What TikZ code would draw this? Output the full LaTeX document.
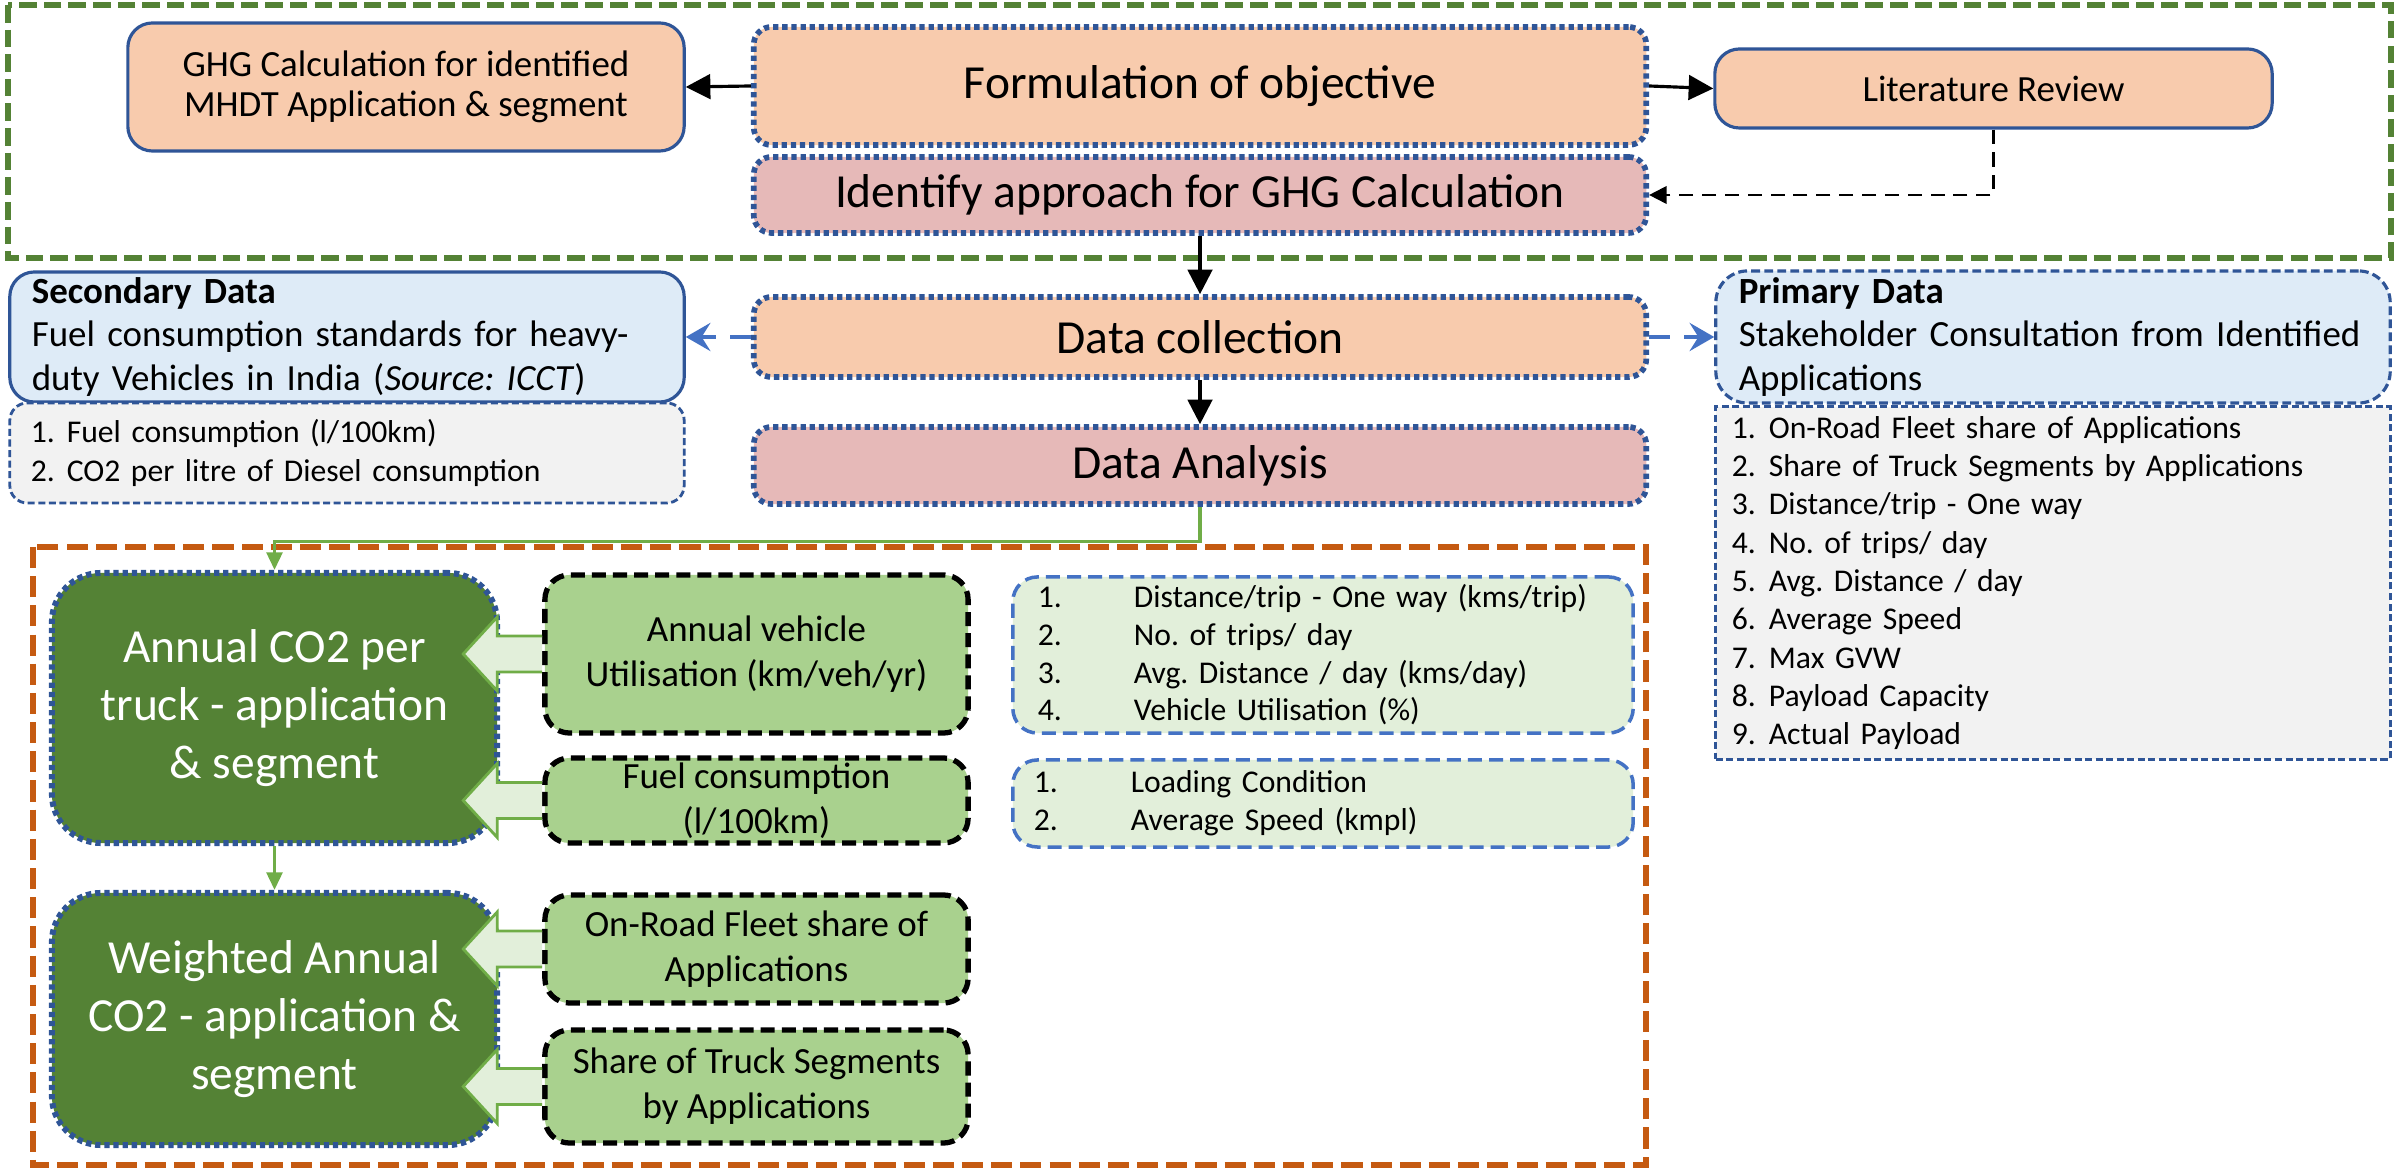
\documentclass[tikz,border=0pt]{standalone}
\usepackage{fontspec}
\setmainfont{Carlito}
\usetikzlibrary{arrows.meta}
\definecolor{peach}{HTML}{F8CBAD}
\definecolor{pinkf}{HTML}{E6B9B8}
\definecolor{dblue}{HTML}{2F5597}
\definecolor{lblue}{HTML}{DEEBF7}
\definecolor{grayf}{HTML}{F2F2F2}
\definecolor{dgreen}{HTML}{548235}
\definecolor{orng}{HTML}{C55A11}
\definecolor{lgreen}{HTML}{A9D18E}
\definecolor{pgreen}{HTML}{E2EFDA}
\definecolor{mblue}{HTML}{4472C4}
\definecolor{agreen}{HTML}{70AD47}
\newcommand{\fsz}[2]{\fontsize{#1}{#2}\selectfont}
\newcommand{\nb}[2]{\makebox[#1][l]{#2}}
\frenchspacing
\begin{document}
\begin{tikzpicture}[x=0.01cm, y=-0.01cm,
  dotbox/.style={draw=dblue, line width=1.6pt, dash pattern=on 1.5pt off 1.1pt, rounded corners=5pt, inner sep=0pt, align=center, font=\fsz{13.5}{16}},
  solbox/.style={draw=dblue, line width=0.9pt, rounded corners=7pt, fill=peach, inner sep=0pt, align=center, font=\fsz{10.5}{11.5}},
  infobox/.style={draw=dblue, fill=lblue, line width=0.9pt, rounded corners=7pt, inner xsep=0.23cm, inner ysep=0pt, align=left, font=\fsz{10.5}{12.5}},
  listbox/.style={draw=dblue, fill=grayf, line width=0.8pt, dash pattern=on 2pt off 1pt, inner ysep=0pt, align=left, font=\fsz{9}{10.9}},
  darkbox/.style={draw=dblue, fill=dgreen, line width=1.7pt, dash pattern=on 1.5pt off 1.1pt, rounded corners=14pt, text=white, inner sep=0pt, align=center, font=\fsz{13.5}{16.5}, minimum width=4.45cm},
  lgbox/.style={draw=black, fill=lgreen, line width=1.5pt, dash pattern=on 4pt off 2pt, rounded corners=7pt, inner sep=0pt, align=center, font=\fsz{10.5}{12.8}, minimum width=4.23cm},
  olist/.style={draw=mblue, fill=pgreen, line width=1pt, dash pattern=on 4pt off 2pt, rounded corners=7pt, inner ysep=0pt, align=left, font=\fsz{9}{10.7}},
  blk/.style={-{Triangle[length=7pt,width=7pt]}, line width=0.9pt, black},
  bluearr/.style={-{Stealth[length=7pt,width=8pt,inset=2.5pt]}, line width=1.4pt, mblue, dash pattern=on 6pt off 4pt},
  garr/.style={-{Triangle[length=5pt,width=4.5pt]}, line width=0.9pt, agreen},
  blockarr/.style={fill=pgreen, draw=agreen, line width=0.8pt, line join=miter},
]
\useasboundingbox (0,0) rectangle (2394,1168);
% frames
\draw[dgreen, line width=1.6pt, dash pattern=on 5pt off 2pt] (8,5) rectangle (2391,258);
\draw[orng, line width=1.6pt, dash pattern=on 6pt off 2.3pt] (33,547) rectangle (1646,1165);

% top row
\node[solbox, minimum width=5.56cm, minimum height=1.28cm] (ghg) at (406,87) {GHG Calculation for identified\\MHDT Application \& segment};
\node[dotbox, fill=peach, minimum width=8.92cm, minimum height=1.18cm] (form) at (1200,86) {Formulation of objective};
\node[solbox, minimum width=5.57cm, minimum height=0.79cm] (lit) at (1993.5,88.5) {Literature Review};
\node[dotbox, fill=pinkf, minimum width=8.92cm, minimum height=0.76cm] (ident) at (1200,195) {Identify approach for GHG Calculation};
\node[dotbox, fill=peach, minimum width=8.92cm, minimum height=0.80cm] (dcol) at (1200,337) {Data collection};
\node[dotbox, fill=pinkf, minimum width=8.92cm, minimum height=0.77cm] (dana) at (1200,465.5) {Data Analysis};

% data sources
\node[infobox, text width=6.30cm, inner xsep=0.22cm, minimum height=1.30cm] (sec) at (347,337)
  {\textbf{Secondary Data}\\\mbox{Fuel consumption standards for heavy-}\\\mbox{duty Vehicles in India (\textit{Source: ICCT})}};
\node[listbox, text width=6.32cm, inner xsep=0.21cm, minimum height=1.00cm, rounded corners=5pt] (seclist) at (347,453)
  {\nb{0.36cm}{1.}Fuel consumption (l/100km)\\\nb{0.36cm}{2.}CO2 per litre of Diesel consumption};
\node[infobox, dash pattern=on 2.5pt off 1.2pt, text width=6.28cm, minimum height=1.32cm, rounded corners=9pt] (prim) at (2053,337)
  {\textbf{Primary Data}\\\mbox{Stakeholder Consultation from Identified}\\Applications};
\node[listbox, text width=6.42cm, inner xsep=0.16cm, minimum height=3.52cm] (primlist) at (2053,583)
  {\nb{0.37cm}{1.}On-Road Fleet share of Applications\\
   \nb{0.37cm}{2.}Share of Truck Segments by Applications\\
   \nb{0.37cm}{3.}Distance/trip - One way\\
   \nb{0.37cm}{4.}No. of trips/ day\\
   \nb{0.37cm}{5.}Avg. Distance / day\\
   \nb{0.37cm}{6.}Average Speed\\
   \nb{0.37cm}{7.}Max GVW\\
   \nb{0.37cm}{8.}Payload Capacity\\
   \nb{0.37cm}{9.}Actual Payload};

% analysis area
\node[darkbox, minimum height=2.70cm] (d1) at (274.5,708) {Annual CO2 per\\truck - application\\\& segment};
\node[darkbox, minimum height=2.52cm] (d2) at (274.5,1019) {Weighted Annual\\CO2 - application \&\\segment};
\node[lgbox, minimum height=1.58cm] (avu) at (756.5,654) {Annual vehicle\\Utilisation (km/veh/yr)};
\node[lgbox, minimum height=0.85cm] (fc) at (756.5,800.5) {Fuel consumption\\(l/100km)};
\node[lgbox, minimum height=1.08cm] (orf) at (756.5,949) {On-Road Fleet share of\\Applications};
\node[lgbox, minimum height=1.13cm] (stk) at (756.5,1086.5) {Share of Truck Segments\\by Applications};
\node[olist, text width=5.70cm, inner xsep=0.25cm, minimum height=1.56cm] (la) at (1323,655)
  {\nb{0.96cm}{1.}Distance/trip - One way (kms/trip)\\
   \nb{0.96cm}{2.}No. of trips/ day\\
   \nb{0.96cm}{3.}Avg. Distance / day (kms/day)\\
   \nb{0.96cm}{4.}Vehicle Utilisation (\%)};
\node[olist, text width=5.78cm, inner xsep=0.21cm, minimum height=0.87cm] (lb) at (1323,803.5)
  {\nb{0.97cm}{1.}Loading Condition\\
   \nb{0.97cm}{2.}Average Speed (kmpl)};

% block arrows
\foreach \n in {avu,fc,orf,stk}{
  \draw[blockarr] (\n.west) ++(0,-18) -- ++(-45,0) -- ++(0,-19) -- ++(-34,37) -- ++(34,37) -- ++(0,-19) -- ++(45,0);
}

% connectors
\draw[blk] (form.west) -- (ghg.east);
\draw[blk] (form.east) -- (lit.west);
\draw[line width=0.6pt, dash pattern=on 4pt off 2.5pt, -{Triangle[length=5pt,width=5pt]}] (lit.south) |- (ident.east);
\draw[blk] (ident.south) -- (dcol.north);
\draw[blk] (dcol.south) -- (dana.north);
\draw[bluearr] (dcol.west) -- (sec.east);
\draw[bluearr] (dcol.east) -- (prim.west);
\draw[garr] (dana.south) -- ++(0,35) -| (d1.north);
\draw[garr] (d1.south) -- (d2.north);
\end{tikzpicture}
\end{document}
